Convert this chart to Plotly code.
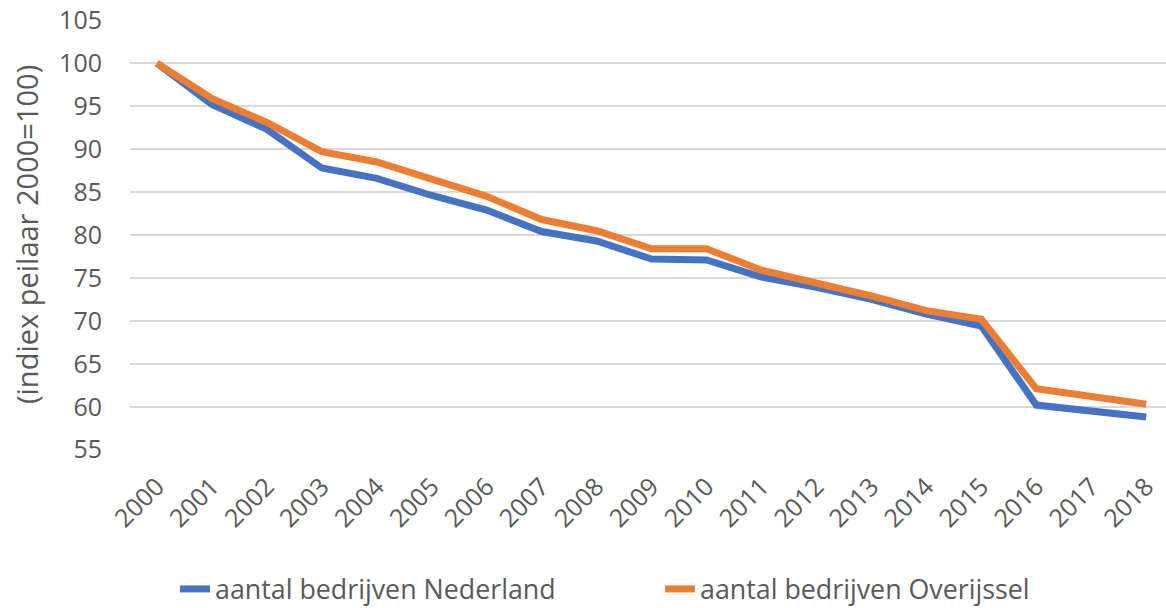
import plotly.graph_objects as go

years = [str(y) for y in range(2000, 2019)]
nederland = [100, 95.2, 92.3, 87.8, 86.6, 84.6, 82.9, 80.4, 79.3, 77.2, 77.1, 75.1, 73.9, 72.5, 70.8, 69.4, 60.2, 59.6, 58.8]
overijssel = [100, 95.9, 93.1, 89.7, 88.5, 86.4, 84.5, 81.8, 80.5, 78.4, 78.4, 75.9, 74.5, 72.9, 71.2, 70.2, 62.1, 61.2, 60.3]
y_ticks = list(range(55, 106, 5))

font = "Open Sans"
grey = "#595959"

fig = go.Figure()
fig.add_trace(go.Scatter(x=years, y=nederland, mode="lines", name="aantal bedrijven Nederland",
                         line=dict(color="#4472C4", width=7)))
fig.add_trace(go.Scatter(x=years, y=overijssel, mode="lines", name="aantal bedrijven Overijssel",
                         line=dict(color="#ED7D31", width=7)))

W, H = 1166, 608
L, T, B = 130, 20, 158
plot_w = W - L
plot_h = H - T - B
fig.update_layout(
    width=W, height=H,
    margin=dict(l=L, r=0, t=T, b=B, autoexpand=False),
    plot_bgcolor="white", paper_bgcolor="white",
    font=dict(family=font, size=24, color=grey),
    showlegend=True,
    legend=dict(orientation="h", x=(175 - L) / plot_w, xanchor="left",
                y=-(589 - (H - B)) / plot_h, yanchor="middle",
                font=dict(size=26.8, color=grey), tracegroupgap=0,
                entrywidth=440, entrywidthmode="pixels"),
    xaxis=dict(type="category", range=[-0.49, 18.36], tickangle=-45, showgrid=False, automargin=False,
               showline=False, zeroline=False, tickfont=dict(size=25, color=grey), ticks="",
               ticklabelstandoff=16),
    yaxis=dict(range=[54.97, 105.03], tickvals=y_ticks, showgrid=True, gridcolor="#d9d9d9", gridwidth=2,
               zeroline=False, showline=False, ticks="", ticklabelstandoff=27, automargin=False,
               ticklabeloverflow="allow", tickfont=dict(size=25, color=grey)),
)
fig.add_annotation(text="(indiex peilaar 2000=100)", xref="paper", yref="paper",
                   x=(26 - L) / plot_w, y=0.5, textangle=-90, showarrow=False,
                   font=dict(size=29, color=grey), xanchor="center", yanchor="middle")

fig.write_html("out.html", config={"displayModeBar": False},
               post_script="document.body.style.margin='0';")
